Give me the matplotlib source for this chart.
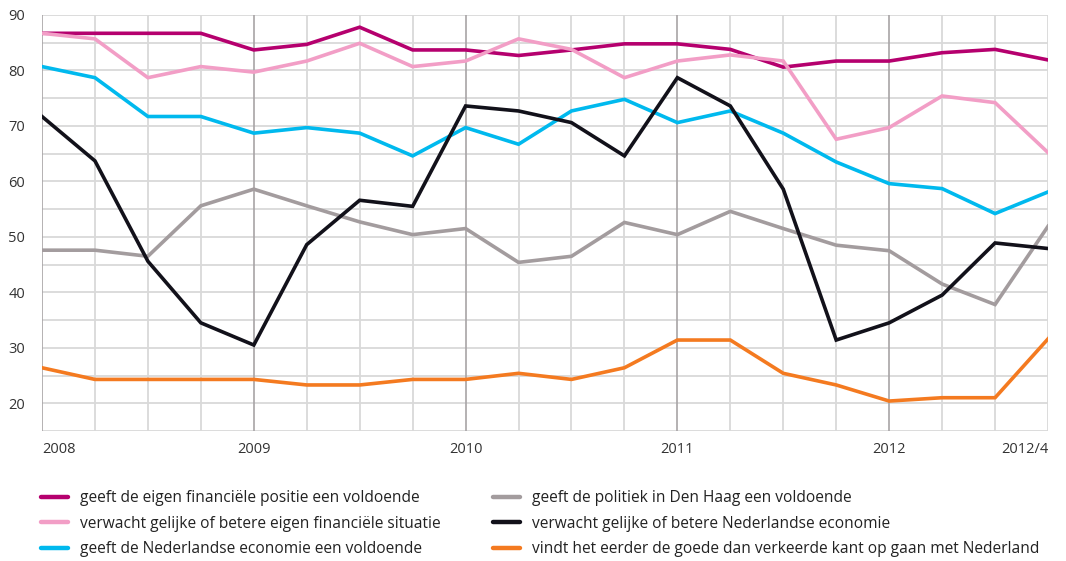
import matplotlib
matplotlib.use("Agg")
import matplotlib.pyplot as plt

# quarters 2008 Q1 .. 2012 Q4
quarters = list(range(20))
tick_pos = [0, 4, 8, 12, 16, 19]
tick_labels = ["2008", "2009", "2010", "2011", "2012", "2012/4"]

eigen_positie = [86.7, 86.7, 86.7, 86.7, 83.7, 84.7, 87.8, 83.7, 83.7, 82.7,
                 83.7, 84.8, 84.8, 83.8, 80.6, 81.7, 81.7, 83.2, 83.8, 81.9]
eigen_verwacht = [86.7, 85.7, 78.7, 80.7, 79.7, 81.7, 84.9, 80.7, 81.7, 85.7,
                  83.8, 78.7, 81.7, 82.8, 81.7, 67.6, 69.7, 75.4, 74.2, 65.2]
economie = [80.7, 78.7, 71.7, 71.7, 68.7, 69.7, 68.7, 64.6, 69.7, 66.7,
            72.7, 74.8, 70.6, 72.7, 68.7, 63.5, 59.6, 58.7, 54.2, 58.1]
politiek = [47.6, 47.6, 46.5, 55.6, 58.6, 55.6, 52.7, 50.4, 51.5, 45.4,
            46.5, 52.6, 50.4, 54.6, 51.5, 48.5, 47.5, 41.5, 37.8, 51.9]
economie_verwacht = [71.7, 63.7, 45.6, 34.5, 30.5, 48.6, 56.6, 55.5, 73.6, 72.7,
                     70.6, 64.6, 78.7, 73.6, 58.6, 31.4, 34.5, 39.5, 48.9, 47.9]
goede_kant = [26.4, 24.3, 24.3, 24.3, 24.3, 23.3, 23.3, 24.3, 24.3, 25.4,
              24.3, 26.4, 31.4, 31.4, 25.4, 23.3, 20.4, 21.0, 21.0, 31.6]

labels = ["geeft de eigen financiële positie een voldoende",
          "verwacht gelijke of betere eigen financiële situatie",
          "geeft de Nederlandse economie een voldoende",
          "geeft de politiek in Den Haag een voldoende",
          "verwacht gelijke of betere Nederlandse economie",
          "vindt het eerder de goede dan verkeerde kant op gaan met Nederland"]
colors = ["#b5006e", "#f29ec6", "#00b9ee", "#a39c9e", "#12111a", "#f47a20"]
series = [eigen_positie, eigen_verwacht, economie, politiek, economie_verwacht, goede_kant]

plt.rcParams["font.family"] = ["Open Sans", "DejaVu Sans"]

fig = plt.figure(figsize=(10.66, 5.61), dpi=100)
ax = fig.add_axes([42 / 1066, 1 - 431 / 561, (1048 - 42) / 1066, (431 - 15) / 561])

# grid
for y in range(15, 91, 5):
    ax.axhline(y, color="#d9d9d9", lw=1.3, zorder=0)
for x in quarters:
    if x in (0, 4, 8, 12, 16):
        ax.axvline(x, color="#a8a4a6", lw=1.2, zorder=0)
    else:
        ax.axvline(x, color="#d9d9d9", lw=1.3, zorder=0)

lines = []
for vals, c in zip(series, colors):
    ln, = ax.plot(quarters, vals, color=c, lw=2.6, solid_joinstyle="miter", zorder=3)
    lines.append(ln)

ax.set_xlim(0, 19)
ax.set_ylim(15, 90)
for s in ax.spines.values():
    s.set_visible(False)
ax.set_yticks(range(20, 91, 10))
ax.set_xticks(tick_pos)
ax.set_xticklabels(tick_labels)
ax.tick_params(length=0, labelsize=10.5, colors="#333333")
ax.tick_params(axis="y", pad=12)
ax.tick_params(axis="x", pad=8)
xl = ax.get_xticklabels()
xl[0].set_ha("left")
xl[-1].set_ha("right")

# legend handles: thicker lines with round caps
handles = [plt.Line2D([], [], color=c, lw=3.2, solid_capstyle="round") for c in colors]

leg_kw = dict(frameon=False, fontsize=11.2, handlelength=1.75, handletextpad=0.75,
              labelspacing=0.62, labelcolor="#222222", borderaxespad=0, borderpad=0)
fig.legend(handles[:3], labels[:3], loc="upper left",
           bbox_to_anchor=(41 / 1066, 1 - 490 / 561), **leg_kw)
fig.legend(handles[3:], labels[3:], loc="upper left",
           bbox_to_anchor=(493 / 1066, 1 - 490 / 561), **leg_kw)

fig.savefig("out.png", dpi=100)
